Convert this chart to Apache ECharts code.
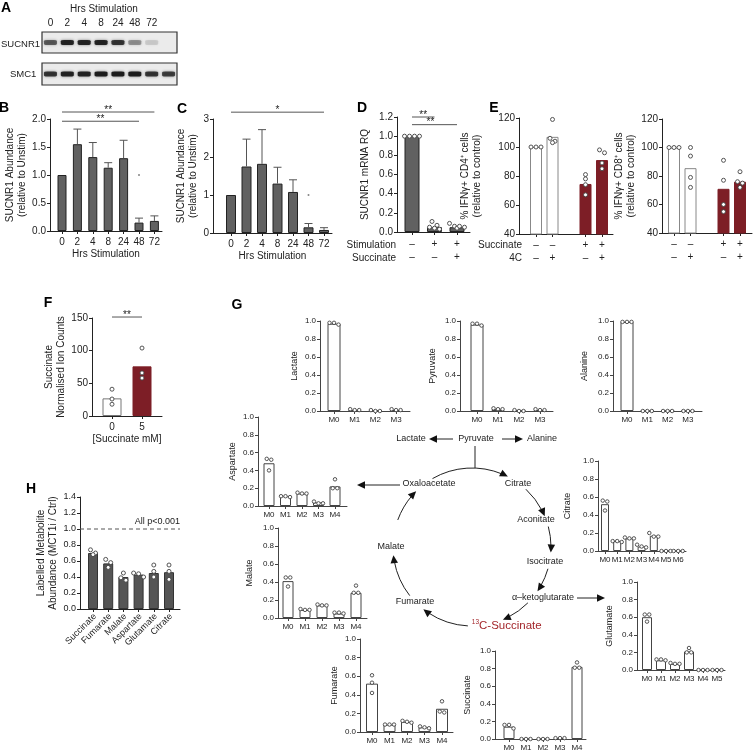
<!DOCTYPE html>
<html>
<head>
<meta charset="utf-8">
<title>SUCNR1 figure</title>
<script src="https://cdn.jsdelivr.net/npm/echarts@6.0.0/dist/echarts.min.js"></script>
<style>
  html, body { margin: 0; padding: 0; background: #fff; }
  #chart { width: 754px; height: 752px; }
</style>
</head>
<body>
<div id="chart"></div>
<script>
// ---------- values ----------
// A: blot band darkness per lane (0..1)
const blotLanes = ['0', '2', '4', '8', '24', '48', '72', ''];
const sucnr1Bands = [0.6, 0.9, 0.9, 0.9, 0.8, 0.35, 0.12, 0];
const smc1Bands = [0.8, 0.9, 0.9, 0.95, 0.95, 0.95, 0.8, 0.75];

// B, C
const hrsLabels = ['0', '2', '4', '8', '24', '48', '72'];
const bMeans = [1.0, 1.55, 1.32, 1.13, 1.30, 0.15, 0.18];
const bUpper = [1.0, 1.82, 1.58, 1.22, 1.62, 0.23, 0.27];
const bStray = [[5, 1.0]];
const cMeans = [1.0, 1.75, 1.82, 1.30, 1.08, 0.15, 0.08];
const cUpper = [1.0, 2.47, 2.72, 1.73, 1.40, 0.25, 0.14];
const cStray = [[5, 1.0]];

// D
const dStim = ['–', '+', '+'];
const dSucc = ['–', '–', '+'];
const dMeans = [1.0, 0.05, 0.05];
const dDots = [[1, 1, 1, 1], [0.11, 0.07, 0.05, 0.03, 0.04], [0.09, 0.06, 0.04, 0.05, 0.06]];

// E
const eSucc = ['–', '–', '+', '+'];
const e4C = ['–', '+', '–', '+'];
const cd4Means = [100, 107, 74.5, 91];
const cd4Dots = [[100, 100, 100], [119, 106, 104, 103], [81, 78, 74, 67], [98, 96, 89, 85]];
const cd8Means = [100, 85.5, 71, 76];
const cd8Dots = [[100, 100, 100], [100, 94, 79, 72], [91, 77, 60, 55], [83, 76, 75, 72]];

// F
const fConc = ['0', '5'];
const fMeans = [27, 76];
const fDots = [[41, 26, 18], [104, 66, 58]];

// H
const hMetabolites = ['Succinate', 'Fumarate', 'Malate', 'Aspartate', 'Glutamate', 'Citrate'];
const hMeans = [0.70, 0.57, 0.40, 0.43, 0.45, 0.46];
const hDots = [[0.74, 0.70, 0.68], [0.62, 0.58, 0.52], [0.45, 0.39, 0.36], [0.45, 0.44, 0.40], [0.55, 0.47, 0.40], [0.55, 0.47, 0.37]];

// G: isotopologue fractions
const isoLabels = ['M0', 'M1', 'M2', 'M3', 'M4', 'M5', 'M6'];
const lactateMeans = [0.97, 0.01, 0.005, 0.01];
const lactateDots = [[0.96, 0.98, 0.98], [0.01, 0.02, 0.01], [0.0, 0.01, 0.0], [0.01, 0.02, 0.01]];
const pyruvateMeans = [0.96, 0.02, 0.005, 0.01];
const pyruvateDots = [[0.95, 0.97, 0.97], [0.02, 0.03, 0.02], [0.0, 0.01, 0.0], [0.01, 0.02, 0.01]];
const alanineMeans = [0.99, 0, 0, 0];
const alanineDots = [[0.99, 0.99, 0.99], [0, 0, 0], [0, 0, 0], [0, 0, 0]];
const aspartateMeans = [0.48, 0.11, 0.14, 0.04, 0.22];
const aspartateDots = [[0.53, 0.52, 0.40], [0.10, 0.11, 0.11], [0.14, 0.15, 0.14], [0.03, 0.05, 0.03], [0.30, 0.20, 0.20]];
const malateMeans = [0.41, 0.09, 0.14, 0.05, 0.28];
const malateDots = [[0.45, 0.45, 0.35], [0.09, 0.10, 0.09], [0.14, 0.15, 0.14], [0.05, 0.06, 0.06], [0.36, 0.28, 0.28]];
const fumarateMeans = [0.52, 0.08, 0.11, 0.05, 0.25];
const fumarateDots = [[0.61, 0.53, 0.42], [0.08, 0.08, 0.08], [0.10, 0.12, 0.11], [0.04, 0.06, 0.05], [0.33, 0.21, 0.22]];
const succinateMeans = [0.14, 0.0, 0.0, 0.01, 0.82];
const succinateDots = [[0.16, 0.12, 0.16], [0, 0, 0], [0, 0, 0], [0.01, 0.01, 0.01], [0.87, 0.81, 0.81]];
const citrateMeans = [0.52, 0.11, 0.14, 0.05, 0.17, 0.0, 0.0];
const citrateDots = [[0.56, 0.55, 0.45], [0.11, 0.11, 0.10], [0.14, 0.15, 0.14], [0.04, 0.07, 0.05], [0.20, 0.16, 0.16], [0, 0, 0], [0, 0, 0]];
const glutamateMeans = [0.60, 0.11, 0.07, 0.21, 0.0, 0.0];
const glutamateDots = [[0.63, 0.63, 0.55], [0.12, 0.12, 0.11], [0.07, 0.08, 0.07], [0.25, 0.20, 0.20], [0, 0, 0], [0, 0, 0]];

// ---------- styling / layout ----------
const FONT = '"Liberation Sans", Arial, sans-serif';
const GRAY = '#616161';
const RED = '#7d1e26';
const INK = '#222';

const grid = [], xAxis = [], yAxis = [], series = [], graphic = [];

function addBlot(top, height, bands, showLanes) {
  const gi = grid.length;
  grid.push({ left: 42, top, width: 135, height, show: true, backgroundColor: '#ebebeb',
    borderColor: '#333', borderWidth: 1.2, outerBoundsMode: 'none' });
  xAxis.push({ gridIndex: gi, type: 'category', data: blotLanes, position: 'top',
    axisLine: { show: false }, axisTick: { show: false },
    axisLabel: { show: showLanes, interval: 0, margin: 4, fontSize: 10, fontFamily: FONT, color: INK } });
  yAxis.push({ gridIndex: gi, type: 'value', min: 0, max: 1, show: false });
  series.push({ type: 'scatter', xAxisIndex: gi, yAxisIndex: gi, silent: true,
    symbol: 'roundRect', symbolSize: [13, 5],
    itemStyle: { color: '#151515', shadowBlur: 3, shadowColor: 'rgba(0,0,0,0.5)' },
    data: bands.map((v, i) => ({ value: [i, 0.5], itemStyle: { opacity: v } })).filter(d => d.itemStyle.opacity > 0) });
}

function dotSeries(gi, xs, dots, size) {
  const data = [];
  dots.forEach((arr, ci) => arr.forEach((v, k) => data.push([xs[ci], v, ci, k])));
  return {
    type: 'custom', xAxisIndex: gi, yAxisIndex: gi, silent: true, clip: false, z: 5,
    encode: { x: 0, y: 1 }, data,
    renderItem(params, api) {
      const ci = api.value(2), k = api.value(3);
      const pts = dots[ci].map((v, j) => ({ j, p: api.coord([xs[ci], v]) }));
      pts.sort((a, b) => a.p[1] - b.p[1]);
      const clusters = [];
      pts.forEach(pt => {
        const last = clusters[clusters.length - 1];
        if (last && Math.abs(pt.p[1] - last[0].p[1]) < size * 0.85) last.push(pt);
        else clusters.push([pt]);
      });
      let dx = 0, py = 0;
      clusters.forEach(c => c.forEach((pt, idx) => {
        if (pt.j === k) { dx = (idx - (c.length - 1) / 2) * size; py = pt.p[1]; }
      }));
      const px = api.coord([xs[ci], 0])[0] + dx;
      return { type: 'circle', shape: { cx: px, cy: py, r: size / 2 - 0.5 },
        style: { fill: '#fff', stroke: '#444', lineWidth: 0.9 } };
    }
  };
}

function addPanel(p) {
  const gi = grid.length;
  const xs = p.xs || p.means.map((_, i) => i);
  const ac = p.axisColor || INK;
  const fs = p.fs || 10;
  const nfs = p.nameFs || fs;
  grid.push({ left: p.ax, top: p.top, width: p.ex - p.ax, height: p.bottom - p.top, outerBoundsMode: 'none' });
  xAxis.push({
    gridIndex: gi, type: 'value', min: -(p.c0 - p.ax) / p.s, max: (p.ex - p.c0) / p.s,
    splitLine: { show: false },
    axisLine: { show: true, onZero: false, lineStyle: { color: ac, width: 1 } },
    axisTick: { show: true, customValues: xs, length: 3, lineStyle: { color: ac, width: 1 } },
    axisLabel: {
      show: !p.rotate, customValues: xs, margin: p.xMargin ?? 4,
      showMinLabel: true, showMaxLabel: true, hideOverlap: false,
      fontSize: fs, fontFamily: FONT, color: INK, lineHeight: p.lineHeight || fs + 2,
      formatter: v => {
        const i = xs.findIndex(x => Math.abs(x - v) < 1e-6);
        if (i < 0) return '';
        return p.labelFmt ? p.labelFmt(i) : p.cats[i];
      }
    },
    name: p.xName || '', nameLocation: 'middle', nameGap: p.xNameGap || 15,
    nameTextStyle: { fontSize: nfs, fontFamily: FONT, color: INK }
  });
  yAxis.push({
    gridIndex: gi, type: 'value', min: p.yMin, max: p.yMax, interval: p.yStep,
    splitLine: { show: false },
    axisLine: { show: true, onZero: false, lineStyle: { color: ac, width: 1 } },
    axisTick: { show: true, length: 3, lineStyle: { color: ac, width: 1 } },
    axisLabel: { margin: 4, fontSize: fs, fontFamily: FONT, color: INK, showMinLabel: true, showMaxLabel: true,
      formatter: v => v.toFixed(p.dec) },
    name: p.yName, nameLocation: 'middle', nameRotate: 90, nameGap: p.yNameGap,
    nameTextStyle: { fontSize: nfs, fontFamily: FONT, color: INK, lineHeight: nfs + 2 }
  });
  series.push({
    type: 'bar', xAxisIndex: gi, yAxisIndex: gi, barWidth: p.barW, silent: true, clip: true, z: 2,
    data: xs.map((x, i) => ({
      value: [x, p.means[i]],
      itemStyle: {
        color: p.fills ? p.fills[i] : p.fill,
        borderColor: p.borders ? p.borders[i] : p.border,
        borderWidth: 1
      }
    }))
  });
  if (p.rotate) {
    // slanted category names, anchored at each tick
    series.push({
      type: 'custom', xAxisIndex: gi, yAxisIndex: gi, silent: true, clip: false, z: 3,
      encode: { x: 0, y: 1 },
      data: xs.map(x => [x, p.yMin]),
      renderItem(params, api) {
        const pt = api.coord([api.value(0), api.value(1)]);
        return { type: 'text', x: pt[0] + 2, y: pt[1] + (p.xMargin ?? 4) + 3, rotation: p.rotate * Math.PI / 180,
          style: { text: p.cats[params.dataIndex], fill: INK, font: fs + 'px ' + FONT,
            align: 'right', verticalAlign: 'middle', textAlign: 'right', textVerticalAlign: 'middle' } };
      }
    });
  }
  if (p.upper) {
    series.push({
      type: 'custom', xAxisIndex: gi, yAxisIndex: gi, silent: true, clip: false, z: 3,
      encode: { x: 0, y: [1, 2] },
      data: xs.map((x, i) => [x, p.means[i], p.upper[i]]),
      renderItem(params, api) {
        const a = api.coord([api.value(0), api.value(1)]);
        const b = api.coord([api.value(0), api.value(2)]);
        if (a[1] - b[1] < 0.5) return null;
        const st = { stroke: '#555', lineWidth: 1 };
        return { type: 'group', children: [
          { type: 'line', shape: { x1: a[0], y1: a[1], x2: b[0], y2: b[1] }, style: st },
          { type: 'line', shape: { x1: b[0] - 4, y1: b[1], x2: b[0] + 4, y2: b[1] }, style: st }
        ] };
      }
    });
  }
  if (p.stray) {
    series.push({ type: 'scatter', xAxisIndex: gi, yAxisIndex: gi, silent: true, symbolSize: 2,
      itemStyle: { color: '#666' }, data: p.stray.map(d => [xs[d[0]], d[1]]) });
  }
  if (p.dots) series.push(dotSeries(gi, xs, p.dots, p.dotSize || 5));
  if (p.notes) {
    series.push({
      type: 'custom', xAxisIndex: gi, yAxisIndex: gi, silent: true, clip: false, z: 4,
      encode: { x: [0, 1], y: 2 },
      data: p.notes.map(n => [n.from == null ? -(p.c0 - p.ax) / p.s : xs[n.from], n.to == null ? (p.ex - p.c0) / p.s : xs[n.to], n.y]),
      renderItem(params, api) {
        const n = p.notes[params.dataIndex];
        const a = api.coord([api.value(0), api.value(2)]);
        const b = api.coord([api.value(1), api.value(2)]);
        const tx = n.align === 'right' ? b[0] : (a[0] + b[0]) / 2 + (n.dx || 0);
        return { type: 'group', children: [
          { type: 'line', shape: { x1: a[0], y1: a[1], x2: b[0], y2: b[1] },
            style: { stroke: '#555', lineWidth: 1, lineDash: n.dash ? [4, 3] : null } },
          { type: 'text', x: tx, y: a[1] - (n.gap ?? 0),
            style: { text: n.text, fill: INK, font: (n.size || 10) + 'px ' + FONT,
              align: n.align || 'center', verticalAlign: 'bottom',
              textAlign: n.align || 'center', textVerticalAlign: 'bottom' } }
        ] };
      }
    });
  }
}

function text(x, y, str, o = {}) {
  graphic.push({ type: 'text', x, y, silent: true,
    style: { text: str, fill: o.color || INK,
      font: (o.bold ? 'bold ' : '') + (o.size || 10) + 'px ' + FONT,
      align: o.align || 'center', verticalAlign: 'middle',
      textAlign: o.align || 'center', textVerticalAlign: 'middle' } });
}

function head(tx, ty, ang) {
  const L = 8, W = 7.5;
  const bx = tx - L * Math.cos(ang), by = ty - L * Math.sin(ang);
  const px = -Math.sin(ang) * W / 2, py = Math.cos(ang) * W / 2;
  graphic.push({ type: 'polygon', silent: true,
    shape: { points: [[tx, ty], [bx + px, by + py], [bx - px, by - py]] }, style: { fill: '#111' } });
}

function lineArrow(x1, y1, x2, y2, tip) {
  const ang = Math.atan2(y2 - y1, x2 - x1);
  const ex = tip ? x2 - 6 * Math.cos(ang) : x2, ey = tip ? y2 - 6 * Math.sin(ang) : y2;
  graphic.push({ type: 'line', silent: true, shape: { x1, y1, x2: ex, y2: ey }, style: { stroke: '#222', lineWidth: 1 } });
  if (tip) head(x2, y2, ang);
}

const cycle = { cx: 472, cy: 547, r: 79 };
function arcArrow(a0, a1) {
  const rad = d => d * Math.PI / 180;
  graphic.push({ type: 'arc', silent: true,
    shape: { cx: cycle.cx, cy: cycle.cy, r: cycle.r, startAngle: rad(a0), endAngle: rad(a1) - 6 / cycle.r, clockwise: true },
    style: { stroke: '#222', fill: 'none', lineWidth: 1 } });
  head(cycle.cx + cycle.r * Math.cos(rad(a1)), cycle.cy + cycle.r * Math.sin(rad(a1)), rad(a1) + Math.PI / 2);
}

// ---------- A ----------
addBlot(32, 21, sucnr1Bands, true);
addBlot(63, 22, smc1Bands, false);
text(104, 9, 'Hrs Stimulation');
text(1, 44, 'SUCNR1', { align: 'left', size: 9.5 });
text(10, 74, 'SMC1', { align: 'left', size: 9.5 });

// ---------- B, C, D, E, F, H ----------
addPanel({ ax: 50, ex: 162, c0: 62, s: 15.4, top: 119, bottom: 231, yMin: 0, yMax: 2, yStep: 0.5, dec: 1,
  cats: hrsLabels, means: bMeans, upper: bUpper, stray: bStray, barW: 9, fill: GRAY, border: INK,
  yName: 'SUCNR1 Abundance\n(relative to Unstim)', yNameGap: 22, xName: 'Hrs Stimulation', xNameGap: 17, xMargin: 5,
  notes: [{ from: 0, to: 6, y: 2.125, text: '**', gap: -3 }, { from: 0, to: 5, y: 1.96, text: '**', gap: -3 }] });

addPanel({ ax: 213, ex: 332, c0: 231, s: 15.5, top: 119, bottom: 233, yMin: 0, yMax: 3, yStep: 1, dec: 0,
  cats: hrsLabels, means: cMeans, upper: cUpper, stray: cStray, barW: 10, fill: GRAY, border: INK,
  yName: 'SUCNR1 Abundance\n(relative to Unstim)', yNameGap: 12, xName: 'Hrs Stimulation', xNameGap: 15, xMargin: 5,
  notes: [{ from: 0, to: 6, y: 3.18, text: '*', gap: -3 }] });

addPanel({ ax: 397, ex: 470, c0: 412, s: 22.5, top: 117, bottom: 232, yMin: 0, yMax: 1.2, yStep: 0.2, dec: 1,
  means: dMeans, dots: dDots, labelFmt: i => dStim[i] + '\n' + dSucc[i], lineHeight: 13, xMargin: 6,
  barW: 15, fill: GRAY, border: INK, yName: 'SUCNR1 mRNA RQ', yNameGap: 26,
  notes: [{ from: 0, to: 1, y: 1.2, text: '**', gap: -3 }, { from: 0, to: 2, y: 1.12, text: '**', gap: -3, dx: -4 }] });
text(396, 245, 'Stimulation', { align: 'right' });
text(396, 258, 'Succinate', { align: 'right' });

addPanel({ ax: 519, ex: 613, c0: 536, s: 16.5, xs: [0, 1, 3, 4], top: 118, bottom: 234, yMin: 40, yMax: 120, yStep: 20, dec: 0,
  means: cd4Means, dots: cd4Dots, labelFmt: i => eSucc[i] + '\n' + e4C[i], lineHeight: 13, xMargin: 5,
  barW: 12, fills: ['#fff', '#fff', RED, RED], borders: ['#888', '#888', RED, RED],
  yName: '% IFNγ+ CD4⁺ cells\n(relative to control)', yNameGap: 36 });
text(522, 245, 'Succinate', { align: 'right' });
text(522, 258, '4C', { align: 'right' });

addPanel({ ax: 662, ex: 752, c0: 674, s: 16.5, xs: [0, 1, 3, 4], top: 119, bottom: 233, yMin: 40, yMax: 120, yStep: 20, dec: 0,
  means: cd8Means, dots: cd8Dots, labelFmt: i => eSucc[i] + '\n' + e4C[i], lineHeight: 13, xMargin: 5,
  barW: 12, fills: ['#fff', '#fff', RED, RED], borders: ['#888', '#888', RED, RED],
  yName: '% IFNγ+ CD8⁺ cells\n(relative to control)', yNameGap: 20 });

addPanel({ ax: 92, ex: 162, c0: 112, s: 30, top: 318, bottom: 416, yMin: 0, yMax: 150, yStep: 50, dec: 0,
  cats: fConc, means: fMeans, dots: fDots, barW: 19, fills: ['#fff', RED], borders: ['#777', RED],
  yName: 'Succinate\nNormalised Ion Counts', yNameGap: 21, xName: '[Succinate mM]', xNameGap: 18, xMargin: 5,
  notes: [{ from: 0, to: 1, y: 151.5, text: '**', gap: -3 }] });

addPanel({ ax: 80, ex: 180, c0: 93, s: 15.2, top: 497, bottom: 609, yMin: 0, yMax: 1.4, yStep: 0.2, dec: 1,
  cats: hMetabolites, means: hMeans, dots: hDots, barW: 10, fill: '#555', border: '#333', rotate: 45, fs: 9, nameFs: 10, xMargin: 3,
  yName: 'Labelled Metabolite\nAbundance (MCT1i / Ctrl)', yNameGap: 20,
  notes: [{ from: null, to: null, y: 1.0, text: 'All p<0.001', dash: true, align: 'right', gap: 3, size: 9 }] });

// ---------- G ----------
const gBase = { yMin: 0, yMax: 1, yStep: 0.2, dec: 1, fs: 8, nameFs: 9, axisColor: '#444',
  fill: '#fff', border: '#444', dotSize: 4.5, xMargin: 4 };
const gPanels = [
  { name: 'Lactate', means: lactateMeans, dots: lactateDots, ax: 320, ex: 410, c0: 334, s: 20.7, top: 321, bottom: 411, barW: 13, gap: 20 },
  { name: 'Pyruvate', means: pyruvateMeans, dots: pyruvateDots, ax: 460, ex: 553, c0: 477, s: 21, top: 321, bottom: 411, barW: 13, gap: 22 },
  { name: 'Alanine', means: alanineMeans, dots: alanineDots, ax: 613, ex: 702, c0: 627, s: 20.3, top: 321, bottom: 411, barW: 13, gap: 23 },
  { name: 'Aspartate', means: aspartateMeans, dots: aspartateDots, ax: 258, ex: 347, c0: 269, s: 16.5, top: 417, bottom: 506, barW: 11, gap: 20 },
  { name: 'Malate', means: malateMeans, dots: malateDots, ax: 278, ex: 367, c0: 288, s: 17, top: 528, bottom: 618, barW: 11, gap: 23 },
  { name: 'Fumarate', means: fumarateMeans, dots: fumarateDots, ax: 360, ex: 453, c0: 372, s: 17.5, top: 639, bottom: 732, barW: 12, gap: 20 },
  { name: 'Succinate', means: succinateMeans, dots: succinateDots, ax: 495, ex: 586, c0: 509, s: 17, top: 651, bottom: 739, barW: 11, gap: 22 },
  { name: 'Citrate', means: citrateMeans, dots: citrateDots, ax: 598, ex: 686, c0: 605, s: 12.2, top: 461, bottom: 551, barW: 8, gap: 25 },
  { name: 'Glutamate', means: glutamateMeans, dots: glutamateDots, ax: 637, ex: 725, c0: 647, s: 14, top: 582, bottom: 670, barW: 10, gap: 22 }
];
gPanels.forEach(g => addPanel(Object.assign({}, gBase, g, {
  cats: isoLabels.slice(0, g.means.length), yName: g.name, yNameGap: g.gap
})));

// pathway
text(411, 439, 'Lactate', { size: 9 });
text(476, 439, 'Pyruvate', { size: 9 });
text(542, 439, 'Alanine', { size: 9 });
lineArrow(453, 439, 429, 439, true);
lineArrow(502, 439, 523, 439, true);
lineArrow(475, 446, 475, 468, false);
text(429, 484, 'Oxaloacetate', { size: 9 });
text(518, 484, 'Citrate', { size: 9 });
text(536, 520, 'Aconitate', { size: 9 });
text(545, 562, 'Isocitrate', { size: 9 });
text(543, 598, 'α–ketoglutarate', { size: 9 });
text(415, 602, 'Fumarate', { size: 9 });
text(391, 547, 'Malate', { size: 9 });
text(479, 626, 'C-Succinate', { size: 11.5, color: '#a3262b', align: 'left' });
text(479, 622, '13', { size: 6.5, color: '#a3262b', align: 'right' });
lineArrow(400, 485, 357, 485, true);
lineArrow(577, 598, 605, 598, true);
[[-120, -63], [-47, -23], [-15, 4], [16, 34], [45, 67], [93, 128], [142, 174], [200, 225]].forEach(a => arcArrow(a[0], a[1]));

// panel letters
[['A', 6, 8], ['B', 4, 108], ['C', 182, 109], ['D', 362, 108], ['E', 494, 108], ['F', 48, 303], ['G', 237, 305], ['H', 31, 489]]
  .forEach(l => text(l[1], l[2], l[0], { size: 14, bold: true, color: '#000' }));

const chart = echarts.init(document.getElementById('chart'), null, { renderer: 'canvas' });
chart.setOption({
  animation: false,
  backgroundColor: '#fff',
  textStyle: { fontFamily: FONT },
  grid, xAxis, yAxis, series, graphic
});
</script>
</body>
</html>
